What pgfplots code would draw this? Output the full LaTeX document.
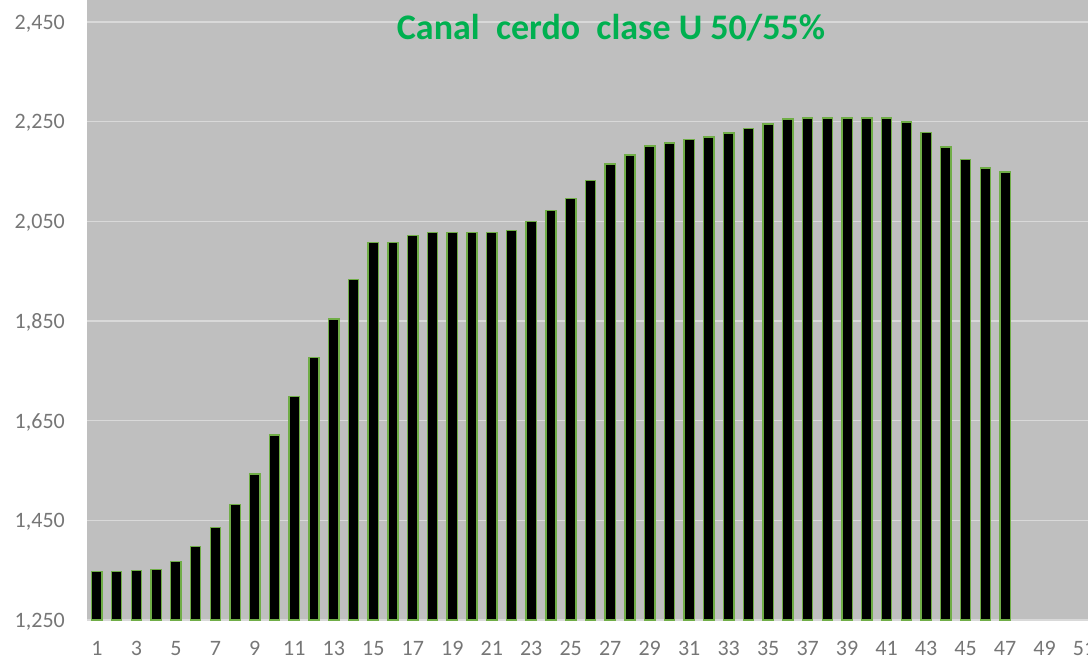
\documentclass[border=0pt]{standalone}
\usepackage{fontspec}
\setmainfont{Carlito}
\usepackage{pgfplots}
\pgfplotsset{compat=1.18}
\definecolor{bg}{RGB}{191,191,191}
\definecolor{gridc}{RGB}{217,217,217}
\definecolor{baredge}{RGB}{112,173,71}
\definecolor{titlegreen}{RGB}{0,176,80}
\definecolor{ticktext}{RGB}{118,118,118}
\begin{document}
\begin{tikzpicture}
\begin{axis}[
  name=ax,
  width=1001pt, height=620pt, scale only axis,
  xmin=0.5, xmax=51.2,
  ymin=1250, ymax=2494,
  ytick={1250,1450,1650,1850,2050,2250,2450},
  xtick={1,3,...,51},
  ymajorgrids,
  grid style={color=gridc, line width=1.3pt},
  axis line style={draw=none},
  major tick length=0pt,
  tick style={draw=none},
  axis background/.style={fill=bg},
  /pgf/number format/assume math mode=true,
  /pgf/number format/1000 sep={,},
  ticklabel style={font=\fontsize{22}{26}\selectfont, text=ticktext},
  yticklabel style={anchor=east, inner sep=0pt, text depth=0pt, xshift=-22pt},
  xticklabel style={anchor=north, inner sep=0pt, yshift=-21pt},
  ybar, bar width=0.52,
]
\addplot[fill=black, draw=baredge, line width=1.4pt] coordinates {
(1,1347) (2,1347) (3,1349) (4,1351) (5,1367) (6,1398) (7,1435) (8,1482)
(9,1543) (10,1621) (11,1699) (12,1777) (13,1854) (14,1933) (15,2008) (16,2008)
(17,2021) (18,2028) (19,2028) (20,2028) (21,2028) (22,2032) (23,2050) (24,2072)
(25,2096) (26,2132) (27,2165) (28,2183) (29,2201) (30,2207) (31,2214) (32,2219)
(33,2227) (34,2236) (35,2245) (36,2255) (37,2257) (38,2257) (39,2257) (40,2257)
(41,2257) (42,2249) (43,2228) (44,2199) (45,2174) (46,2157) (47,2149)
};
\node[anchor=base, text=titlegreen, font=\fontsize{36}{40}\selectfont\bfseries, inner sep=0pt]
  at (rel axis cs:0.5235,0.937) {Canal\ \ cerdo\ \ clase U 50/55\%};
\end{axis}
\pgfresetboundingbox
\useasboundingbox ([shift={(-87pt,-40pt)}]ax.south west) rectangle (ax.north east);
\end{tikzpicture}
\end{document}
